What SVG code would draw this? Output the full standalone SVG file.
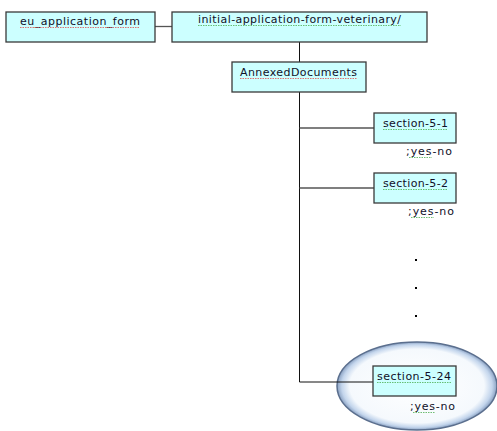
<svg xmlns="http://www.w3.org/2000/svg" width="497" height="431" viewBox="0 0 497 431">
<defs>
<radialGradient id="eg" cx="0.5" cy="0.5" r="0.5">
<stop offset="0" stop-color="#ffffff"/>
<stop offset="0.84" stop-color="#f5f9fd"/>
<stop offset="0.94" stop-color="#c3d5ec"/>
<stop offset="1" stop-color="#8aa1c2"/>
</radialGradient>
<style>
.box{fill:#ccffff;stroke:#3a3a3a;stroke-width:1.3}
.t{font-family:"DejaVu Sans","Liberation Sans",sans-serif;font-size:11px;fill:#101028}
.c{stroke:#555;stroke-width:1.3;fill:none}
.v{stroke:#111;stroke-width:1;fill:none}
.wr{stroke:#e05050;stroke-width:0.8;fill:none;stroke-dasharray:1.5 1}
.wg{stroke:#4caf50;stroke-width:0.8;fill:none;stroke-dasharray:1.5 1}
.dot{fill:#000}
</style>
</defs>
<g id="highlight">
<ellipse cx="417" cy="386" rx="80" ry="44" fill="url(#eg)" stroke="#5b6f8e" stroke-width="1.5"/>
</g>
<g id="connectors">
<line class="c" x1="155" y1="26.5" x2="172" y2="26.5"/>
<line class="v" x1="299.5" y1="42" x2="299.5" y2="62"/>
<line class="v" x1="299.5" y1="92" x2="299.5" y2="382"/>
<line class="c" x1="299.5" y1="128" x2="374" y2="128"/>
<line class="c" x1="299.5" y1="188" x2="374" y2="188"/>
<line class="v" x1="299.5" y1="382" x2="373" y2="382"/>
</g>
<g id="eu_application_form">
<rect class="box" x="6" y="12" width="149" height="30"/>
<text class="t" x="20" y="25" textLength="120">eu_application_form</text>
<line class="wr" x1="20" y1="27.5" x2="140" y2="27.5"/>
</g>
<g id="initial-application-form-veterinary">
<rect class="box" x="172" y="12" width="255" height="30"/>
<text class="t" x="198" y="23" textLength="203">initial-application-form-veterinary/</text>
<line class="wg" x1="198" y1="25.5" x2="401" y2="25.5"/>
</g>
<g id="AnnexedDocuments">
<rect class="box" x="232" y="62" width="134" height="30"/>
<text class="t" x="240" y="76" textLength="117">AnnexedDocuments</text>
<line class="wr" x1="240" y1="78.5" x2="357" y2="78.5"/>
</g>
<g id="section-5-1">
<rect class="box" x="374" y="113" width="82" height="30"/>
<text class="t" x="383" y="127" textLength="65">section-5-1</text>
<line class="wg" x1="383" y1="129.5" x2="448" y2="129.5"/>
<text class="t" x="406" y="155" textLength="46">;yes-no</text>
<line class="wg" x1="409" y1="157.5" x2="432" y2="157.5"/>
</g>
<g id="section-5-2">
<rect class="box" x="374" y="173" width="82" height="30"/>
<text class="t" x="383" y="187" textLength="65">section-5-2</text>
<line class="wg" x1="383" y1="189.5" x2="448" y2="189.5"/>
<text class="t" x="408" y="215" textLength="46">;yes-no</text>
<line class="wg" x1="411" y1="217.5" x2="434" y2="217.5"/>
</g>
<g id="ellipsis">
<rect class="dot" x="415" y="259" width="2" height="2"/>
<rect class="dot" x="415" y="287" width="2" height="2"/>
<rect class="dot" x="415" y="315" width="2" height="2"/>
</g>
<g id="section-5-24">
<rect class="box" x="373" y="366" width="83" height="30"/>
<text class="t" x="377" y="380" textLength="74">section-5-24</text>
<line class="wg" x1="377" y1="382.5" x2="451" y2="382.5"/>
<text class="t" x="410" y="410" textLength="45">;yes-no</text>
<line class="wg" x1="413" y1="412.5" x2="435" y2="412.5"/>
</g>
</svg>
